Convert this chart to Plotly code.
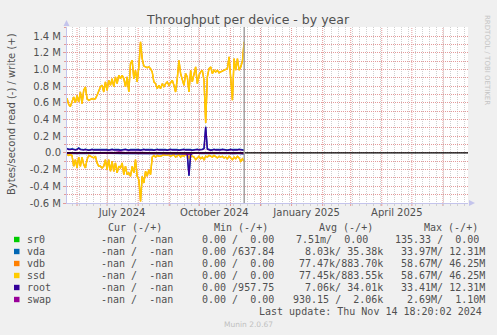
import plotly.graph_objects as go
import pandas as pd

# ---------------- data (MB/s; write positive, read negative) ----------------
N = 107
dates = pd.date_range("2024-05-22 00:00", periods=N, freq="40h")

ssd_write = [0.655, 0.58, 0.555, 0.61, 0.67, 0.60, 0.69, 0.61, 0.73, 0.59,
             0.75, 0.79, 0.65, 0.63, 0.64, 0.65, 0.64, 0.65, 0.69, 0.75,
             0.79, 0.81, 0.73, 0.85, 0.75, 0.87, 0.81, 0.89, 0.79, 0.91,
             0.83, 0.93, 0.89, 0.93, 0.89, 0.79, 0.91, 0.73, 1.07, 1.11,
             0.89, 0.99, 0.85, 1.03, 1.33, 1.13, 1.04, 1.03, 1.02, 1.03,
             1.01, 0.97, 0.85, 0.83, 0.77, 0.81, 0.77, 0.83, 0.79, 0.83,
             0.85, 0.81, 0.85, 0.87, 0.81, 0.73, 0.89, 1.11, 0.95, 0.89,
             0.81, 0.95, 0.91, 0.73, 0.99, 0.85, 0.95, 1.03, 0.83, 0.93,
             0.97, 0.99, 0.87, 0.36, 0.91, 1.01, 1.03, 0.95, 0.99, 0.97,
             0.99, 0.96, 0.97, 0.98, 0.99, 1.00, 1.01, 1.15, 0.91, 0.63,
             1.13, 0.99, 1.13, 0.99, 1.03, 1.10, 1.33]
ssd_read = [-0.02, -0.03, -0.02, -0.03, -0.16, -0.08, -0.18, -0.05, -0.16, -0.05,
            -0.14, -0.18, -0.08, -0.03, -0.04, -0.05, -0.06, -0.04, -0.12, -0.16,
            -0.16, -0.18, -0.16, -0.08, -0.20, -0.08, -0.22, -0.10, -0.22, -0.12,
            -0.24, -0.16, -0.18, -0.12, -0.26, -0.16, -0.26, -0.24, -0.28, -0.16,
            -0.24, -0.08, -0.28, -0.32, -0.58, -0.28, -0.36, -0.22, -0.28, -0.20,
            -0.26, -0.05, -0.03, -0.05, -0.03, -0.04, -0.04, -0.03, -0.02, -0.03,
            -0.03, -0.02, -0.04, -0.03, -0.02, -0.05, -0.03, -0.02, -0.05, -0.03,
            -0.04, -0.02, -0.03, -0.06, -0.03, -0.04, -0.05, -0.08, -0.06, -0.04,
            -0.07, -0.05, -0.08, -0.04, -0.05, -0.03, -0.04, -0.05, -0.03, -0.04,
            -0.06, -0.04, -0.05, -0.04, -0.06, -0.05, -0.07, -0.04, -0.06, -0.08,
            -0.05, -0.07, -0.04, -0.06, -0.10, -0.07, -0.10]
vdb_write = ssd_write
vdb_read = ssd_read

root_write = [0.05, 0.04, 0.04, 0.045, 0.04, 0.035, 0.04, 0.055, 0.04, 0.035,
              0.035, 0.04, 0.035, 0.03, 0.035, 0.04, 0.035, 0.035, 0.04, 0.035,
              0.04, 0.035, 0.035, 0.04, 0.035, 0.03, 0.035, 0.04, 0.035, 0.035,
              0.04, 0.035, 0.03, 0.035, 0.035, 0.04, 0.035, 0.03, 0.035, 0.035,
              0.035, 0.04, 0.035, 0.035, 0.03, 0.035, 0.04, 0.035, 0.035, 0.04,
              0.035, 0.035, 0.03, 0.035, 0.04, 0.035, 0.035, 0.04, 0.035, 0.035,
              0.03, 0.035, 0.04, 0.035, 0.035, 0.04, 0.035, 0.03, 0.035, 0.035,
              0.04, 0.035, 0.035, 0.04, 0.035, 0.03, 0.035, 0.035, 0.04, 0.035,
              0.035, 0.04, 0.05, 0.31, 0.045, 0.035, 0.03, 0.035, 0.04, 0.035,
              0.035, 0.03, 0.035, 0.04, 0.035, 0.035, 0.03, 0.035, 0.04, 0.035,
              0.035, 0.03, 0.035, 0.04, 0.035, 0.035, 0.03]
root_read = [-0.006, -0.005, -0.004, -0.006, -0.005, -0.004, -0.005, -0.006, -0.005, -0.004,
             -0.005, -0.006, -0.005, -0.004, -0.005, -0.005, -0.006, -0.004, -0.005, -0.005,
             -0.006, -0.005, -0.004, -0.005, -0.006, -0.005, -0.004, -0.005, -0.006, -0.005,
             -0.005, -0.004, -0.006, -0.005, -0.005, -0.004, -0.006, -0.005, -0.005, -0.004,
             -0.005, -0.006, -0.005, -0.004, -0.008, -0.005, -0.006, -0.005, -0.004, -0.005,
             -0.005, -0.004, -0.005, -0.006, -0.005, -0.004, -0.005, -0.006, -0.005, -0.004,
             -0.005, -0.006, -0.005, -0.004, -0.005, -0.006, -0.005, -0.004, -0.005, -0.006,
             -0.005, -0.01, -0.02, -0.27, -0.02, -0.006, -0.005, -0.008, -0.006, -0.005,
             -0.006, -0.005, -0.008, -0.006, -0.005, -0.004, -0.005, -0.006, -0.005, -0.004,
             -0.006, -0.005, -0.004, -0.005, -0.006, -0.005, -0.007, -0.005, -0.006, -0.008,
             -0.005, -0.006, -0.005, -0.006, -0.01, -0.007, -0.01]
vda_write = [0.055, 0.045, 0.045, 0.05, 0.045, 0.04, 0.045, 0.06, 0.045, 0.04,
             0.04, 0.045, 0.04, 0.035, 0.04, 0.045, 0.04, 0.04, 0.045, 0.04,
             0.045, 0.04, 0.04, 0.045, 0.04, 0.035, 0.04, 0.045, 0.04, 0.04,
             0.045, 0.04, 0.035, 0.04, 0.04, 0.045, 0.04, 0.035, 0.04, 0.04,
             0.04, 0.045, 0.04, 0.04, 0.035, 0.04, 0.045, 0.04, 0.04, 0.045,
             0.04, 0.04, 0.035, 0.04, 0.045, 0.04, 0.04, 0.045, 0.04, 0.04,
             0.035, 0.04, 0.045, 0.04, 0.04, 0.045, 0.04, 0.035, 0.04, 0.04,
             0.045, 0.04, 0.04, 0.045, 0.04, 0.035, 0.04, 0.04, 0.045, 0.04,
             0.04, 0.045, 0.055, 0.315, 0.05, 0.04, 0.035, 0.04, 0.045, 0.04,
             0.04, 0.035, 0.04, 0.045, 0.04, 0.04, 0.035, 0.04, 0.045, 0.04,
             0.04, 0.035, 0.04, 0.045, 0.04, 0.04, 0.035]
vda_read = [-0.007, -0.006, -0.005, -0.007, -0.006, -0.005, -0.006, -0.007, -0.006, -0.005,
            -0.006, -0.007, -0.006, -0.005, -0.006, -0.006, -0.007, -0.005, -0.006, -0.006,
            -0.007, -0.006, -0.005, -0.006, -0.007, -0.006, -0.005, -0.006, -0.007, -0.006,
            -0.006, -0.005, -0.007, -0.006, -0.006, -0.005, -0.007, -0.006, -0.006, -0.005,
            -0.006, -0.007, -0.006, -0.005, -0.009, -0.006, -0.007, -0.006, -0.005, -0.006,
            -0.006, -0.005, -0.006, -0.007, -0.006, -0.005, -0.006, -0.007, -0.006, -0.005,
            -0.006, -0.007, -0.006, -0.005, -0.006, -0.007, -0.006, -0.005, -0.006, -0.007,
            -0.006, -0.011, -0.021, -0.275, -0.021, -0.007, -0.006, -0.009, -0.007, -0.006,
            -0.007, -0.006, -0.009, -0.007, -0.006, -0.005, -0.006, -0.007, -0.006, -0.005,
            -0.007, -0.006, -0.005, -0.006, -0.007, -0.006, -0.008, -0.006, -0.007, -0.009,
            -0.006, -0.007, -0.006, -0.007, -0.011, -0.008, -0.011]
swap_write = [0.003, 0.002, 0.004, 0.003, 0.002, 0.003, 0.005, 0.003, 0.002, 0.003,
              0.004, 0.003, 0.002, 0.003, 0.003, 0.002, 0.004, 0.003, 0.002, 0.003,
              0.003, 0.004, 0.002, 0.003, 0.003, 0.002, 0.003, 0.004, 0.003, 0.002,
              0.008, 0.01, 0.006, 0.003, 0.002, 0.003, 0.004, 0.003, 0.002, 0.003,
              0.003, 0.002, 0.003, 0.004, 0.006, 0.003, 0.002, 0.003, 0.003, 0.002,
              0.003, 0.002, 0.003, 0.002, 0.003, 0.002, 0.003, 0.002, 0.003, 0.002,
              0.003, 0.002, 0.003, 0.002, 0.003, 0.002, 0.003, 0.002, 0.003, 0.002,
              0.003, 0.004, 0.006, 0.008, 0.004, 0.003, 0.002, 0.003, 0.002, 0.003,
              0.002, 0.003, 0.002, 0.003, 0.002, 0.003, 0.002, 0.003, 0.002, 0.003,
              0.002, 0.003, 0.002, 0.003, 0.002, 0.003, 0.002, 0.003, 0.002, 0.003,
              0.002, 0.003, 0.002, 0.003, 0.002, 0.003, 0.002]
swap_read = [-0.001, -0.002, -0.001, -0.002, -0.001, -0.002, -0.003, -0.001, -0.002, -0.001,
             -0.002, -0.001, -0.002, -0.001, -0.002, -0.001, -0.002, -0.001, -0.002, -0.001,
             -0.002, -0.001, -0.002, -0.001, -0.002, -0.001, -0.002, -0.001, -0.002, -0.001,
             -0.004, -0.006, -0.003, -0.001, -0.002, -0.001, -0.002, -0.001, -0.002, -0.001,
             -0.002, -0.001, -0.002, -0.001, -0.004, -0.001, -0.002, -0.001, -0.002, -0.001,
             -0.002, -0.001, -0.002, -0.001, -0.002, -0.001, -0.002, -0.001, -0.002, -0.001,
             -0.002, -0.001, -0.002, -0.001, -0.002, -0.001, -0.002, -0.001, -0.002, -0.001,
             -0.002, -0.003, -0.01, -0.02, -0.004, -0.001, -0.002, -0.001, -0.002, -0.001,
             -0.002, -0.001, -0.002, -0.001, -0.002, -0.001, -0.002, -0.001, -0.002, -0.001,
             -0.002, -0.001, -0.002, -0.001, -0.002, -0.001, -0.002, -0.001, -0.002, -0.001,
             -0.002, -0.001, -0.002, -0.001, -0.002, -0.001, -0.002]
sr0_write = [0.0] * N
sr0_read = [0.0] * N

# legend table text
devices = ["sr0", "vda", "vdb", "ssd", "root", "swap"]
colors = ["#00CC00", "#0066B3", "#FF8000", "#FFCC00", "#330099", "#990099"]
cur_txt = ["-nan /  -nan"] * 6
min_txt = ["0.00 /  0.00", "0.00 /637.84", "0.00 /  0.00", "0.00 /  0.00", "0.00 /957.75", "0.00 /  0.00"]
avg_txt = ["7.51m/  0.00", "8.03k/ 35.38k", "77.47k/883.70k", "77.45k/883.55k", "7.06k/ 34.01k", "930.15 /  2.06k"]
max_txt = ["135.33 /  0.00", "33.97M/ 12.31M", "58.67M/ 46.25M", "58.67M/ 46.25M", "33.41M/ 12.31M", "2.69M/  1.10M"]
avg_x = [295, 304, 298, 298, 304, 292]
max_x = [394, 400, 400, 400, 400, 406]
headers = ["Cur (-/+)", "Min (-/+)", "Avg (-/+)", "Max (-/+)"]
header_x = [107, 213, 318, 423]

y_ticks = [-0.6, -0.4, -0.2, 0.0, 0.2, 0.4, 0.6, 0.8, 1.0, 1.2, 1.4]
y_ticktext = ["-0.6 M", "-0.4 M", "-0.2 M", "0.0", "0.2 M", "0.4 M", "0.6 M", "0.8 M", "1.0 M", "1.2 M", "1.4 M"]
x_label_dates = ["2024-07-16", "2024-10-16", "2025-01-16", "2025-04-16"]
x_label_text = ["July 2024", "October 2024", "January 2025", "April 2025"]
month_starts = pd.date_range("2024-06-01", "2025-06-01", freq="MS")
now = "2024-11-14 18:20:02"

# ---------------- layout geometry ----------------
W, H = 497, 335
PL, PR, PT, PB = 67, 468, 27, 203
def px(x):
    return (x - PL) / (PR - PL)
def py(y):
    return (PB - y) / (PB - PT)

TXT = "#505050"
MONO = "DejaVu Sans Mono"
SANS = "DejaVu Sans"
NB = lambda s: s.replace(" ", "\u00a0")

fig = go.Figure()
series = [(sr0_read, sr0_write), (vda_read, vda_write), (vdb_read, vdb_write),
          (ssd_read, ssd_write), (root_read, root_write), (swap_read, swap_write)]
for (rd, wr), c, name in zip(series, colors, devices):
    for vals in (rd, wr):
        fig.add_trace(go.Scatter(x=dates, y=vals, mode="lines", name=name,
                                 line=dict(color=c, width=1.4), showlegend=False,
                                 hoverinfo="skip"))

GRID_RED = "#E39A9A"
GRID_GRAY = "#D0D0D0"
AXIS_C = "#C4C4EC"
xr = ["2024-05-22", "2025-06-26"]

fig.update_layout(
    width=W, height=H,
    margin=dict(l=PL, r=W - PR, t=PT, b=H - PB),
    paper_bgcolor="#F0F0F0", plot_bgcolor="#FFFFFF",
    showlegend=False,
    xaxis=dict(range=xr, type="date", tickmode="array", tickvals=x_label_dates,
               ticktext=x_label_text, ticks="", showgrid=False, zeroline=False,
               showline=True, linecolor=AXIS_C, linewidth=1,
               tickfont=dict(family=SANS, size=10, color=TXT),
               minor=dict(tick0="2024-05-27", dtick=7 * 86400000, showgrid=True,
                          gridcolor=GRID_GRAY, griddash="1px,1px", gridwidth=1,
                          ticks="outside", ticklen=2, tickcolor=GRID_GRAY)),
    yaxis=dict(range=[-0.6, 1.508], tickmode="array", tickvals=y_ticks, ticktext=y_ticktext,
               showgrid=True, gridcolor=GRID_RED, griddash="1px,1px", gridwidth=1,
               zeroline=False, showline=True, linecolor=AXIS_C, linewidth=1,
               ticks="outside", ticklen=3, tickcolor=GRID_RED,
               tickfont=dict(family=SANS, size=10, color=TXT),
               minor=dict(tick0=0, dtick=0.1, showgrid=True, gridcolor=GRID_RED,
                          griddash="1px,1px", gridwidth=1, ticks="outside", ticklen=2,
                          tickcolor=GRID_RED)),
)

shapes = []
# monthly major grid (red dotted) with small ticks below the axis
for m in month_starts:
    shapes.append(dict(type="line", xref="x", yref="paper", x0=m, x1=m, y0=0, y1=1,
                       line=dict(color=GRID_RED, width=1, dash="1px,1px"), layer="below"))
    shapes.append(dict(type="line", xref="x", yref="paper", x0=m, x1=m, y0=py(206), y1=0,
                       line=dict(color=GRID_RED, width=1), layer="below"))
# zero rule and now marker
shapes.append(dict(type="line", xref="paper", yref="y", x0=0, x1=1, y0=0, y1=0,
                   line=dict(color="#000000", width=1.1), layer="above"))
shapes.append(dict(type="line", xref="x", yref="paper", x0=now, x1=now, y0=0, y1=1,
                   line=dict(color="#A0A0A0", width=1.5), layer="above"))
# axis arrows
shapes.append(dict(type="path", xref="paper", yref="paper",
                   path=f"M {px(63.5)} {py(26)} L {px(69.5)} {py(26)} L {px(66.5)} {py(20)} Z",
                   fillcolor=AXIS_C, line=dict(width=0)))
shapes.append(dict(type="path", xref="paper", yref="paper",
                   path=f"M {px(469)} {py(200)} L {px(469)} {py(206)} L {px(475)} {py(203)} Z",
                   fillcolor=AXIS_C, line=dict(width=0)))
# legend colour squares
row_y = [239.5, 251.5, 263.5, 275.5, 287.5, 299.5]
for c, ry in zip(colors, row_y):
    shapes.append(dict(type="rect", xref="paper", yref="paper",
                       x0=px(14), x1=px(19.5), y0=py(ry + 2.7), y1=py(ry - 2.7),
                       fillcolor=c, line=dict(width=0)))
fig.update_layout(shapes=shapes)

ann = []
def A(text, x, y, size=10, family=MONO, color=TXT, xanchor="left", angle=0):
    ann.append(dict(text=text, xref="paper", yref="paper", x=px(x), y=py(y),
                    xanchor=xanchor, yanchor="middle", showarrow=False, textangle=angle,
                    font=dict(family=family, size=size, color=color), borderpad=0))

A("Throughput per device - by year", 248, 19, size=12.5, family=SANS, xanchor="center")
A("Bytes/second read (-) / write (+)", 12, 114, size=10, family=SANS, xanchor="center", angle=-90)
A("RRDTOOL / TOBI OETIKER", 487, 60, size=7, family=SANS, color="#C4C4C4", xanchor="center", angle=90)
for h, hx in zip(headers, header_x):
    A(NB(h), hx, 227.5, xanchor="left")
for i, ry in enumerate(row_y):
    A(devices[i], 26, ry)
    A(NB(cur_txt[i]), 100, ry)
    A(NB(min_txt[i]), 201, ry)
    A(NB(avg_txt[i]), avg_x[i], ry)
    A(NB(max_txt[i]), max_x[i], ry)
A(NB("Last update: Thu Nov 14 18:20:02 2024"), 483, 311.5, xanchor="right")
A("Munin 2.0.67", 248, 324, size=7.5, family=SANS, color="#C0C0C0", xanchor="center")
fig.update_layout(annotations=ann)

fig.write_html("out.html")
